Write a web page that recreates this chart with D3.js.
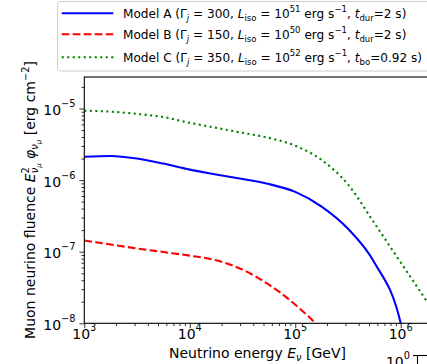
<!DOCTYPE html>
<html><head><meta charset="utf-8">
<script src="https://cdn.jsdelivr.net/npm/d3@7"></script>
<style>
html,body{margin:0;padding:0;background:#fff;}
svg text{font-family:"DejaVu Sans",sans-serif;white-space:pre;}
</style></head>
<body><svg id="c" width="427" height="364"></svg>
<script>
// ---- data ----
const energy = [1e3, 1778, 3162, 5623, 1e4, 17783, 31623, 56234, 1e5, 177828, 316228, 562341, 1e6, 1778279, 1995262];
const modelA = [2.12e-6, 2.17e-6, 2.00e-6, 1.70e-6, 1.40e-6, 1.20e-6, 1.035e-6, 8.81e-7, 6.84e-7, 4.27e-7, 2.09e-7, 7.08e-8, 1.0e-8, 5e-11, null];
const modelB = [1.43e-7, 1.26e-7, 1.11e-7, 9.89e-8, 8.81e-8, 7.59e-8, 5.62e-8, 3.47e-8, 1.82e-8, 8.1e-9, 2.8e-9, null, null, null, null];
const modelC = [9.33e-6, 9.02e-6, 8.41e-6, 7.59e-6, 6.31e-6, 5.37e-6, 4.57e-6, 3.89e-6, 3.02e-6, 1.91e-6, 8.71e-7, 2.51e-7, 7.08e-8, 2.00e-8, 1.55e-8];
const xTickExp = [3, 4, 5, 6];
const yTickExp = [-8, -7, -6, -5];
const seriesNames = ["Model A", "Model B", "Model C"];

const svg = d3.select("#c");
const L = 84.3, R = 431, T = 77, B = 323.3;
const x = d3.scaleLog().domain([1e3, Math.pow(10, 3 + (R - L) / 105.47)]).range([L, R]);
const y = d3.scaleLog().domain([1e-8, Math.pow(10, -8 + (B - T) / 71.6)]).range([B, T]);

function rich(sel, segs, base) {
  let cur = 0;
  segs.forEach(([t, o]) => {
    o = o || {};
    const off = o.off || 0;
    const ts = sel.append("tspan").text(t).attr("font-size", o.size || base).attr("dy", off - cur);
    if (o.it) ts.attr("font-style", "italic");
    if (o.dx) ts.attr("dx", o.dx);
    cur = off;
  });
}
const LF = 12.1;
const SUP = {size: 8.5, off: -5.5};
const SUB = {size: 8.5, off: 2.7};

// clip
svg.append("defs").append("clipPath").attr("id", "clip")
  .append("rect").attr("x", L).attr("y", T).attr("width", R - L).attr("height", B - T);

// lines
const line = d3.line().defined(d => d[1] != null).x(d => x(d[0])).y(d => y(d[1])).curve(d3.curveMonotoneX);
const styles = [
  {data: modelA, color: "#0000ff", dash: null},
  {data: modelB, color: "#ff0000", dash: "7.7,3.3"},
  {data: modelC, color: "#008000", dash: "2.1,3.4"}
];
const g = svg.append("g").attr("clip-path", "url(#clip)");
styles.forEach(s => {
  g.append("path").attr("d", line(energy.map((e, i) => [e, s.data[i]])))
    .attr("fill", "none").attr("stroke", s.color).attr("stroke-width", 2.08)
    .attr("stroke-dasharray", s.dash);
});

// axes
const xAxis = d3.axisBottom(x).tickValues(xTickExp.map(e => Math.pow(10, e))).tickSize(4.9).tickFormat("");
const xMinor = [];
for (let k = 3; k <= 6; k++) for (let m = 2; m <= 9; m++) { const v = m * Math.pow(10, k); if (v <= x.domain()[1]) xMinor.push(v); }
const yMinor = [];
for (let k = -8; k <= -5; k++) for (let m = 2; m <= 9; m++) { const v = m * Math.pow(10, k); if (v <= y.domain()[1]) yMinor.push(v); }
svg.append("g").attr("transform", `translate(0,${B})`).call(xAxis);
svg.append("g").attr("transform", `translate(0,${B})`).call(d3.axisBottom(x).tickValues(xMinor).tickSize(2.8).tickFormat(""));
svg.append("g").attr("transform", `translate(${L},0)`).call(d3.axisLeft(y).tickValues(yTickExp.map(e => Math.pow(10, e))).tickSize(4.9).tickFormat(""));
svg.append("g").attr("transform", `translate(${L},0)`).call(d3.axisLeft(y).tickValues(yMinor).tickSize(2.8).tickFormat(""));
svg.selectAll(".domain").remove();
svg.selectAll(".tick line").attr("stroke", "#000").attr("stroke-width", 0.8);

// spines
svg.append("rect").attr("x", L).attr("y", T).attr("width", R - L).attr("height", B - T)
  .attr("fill", "none").attr("stroke", "#000").attr("stroke-width", 1.1);

// tick labels
xTickExp.forEach(e => {
  const t = svg.append("text").attr("x", x(Math.pow(10, e))).attr("y", 339).attr("text-anchor", "middle");
  rich(t, [["10"], [String(e), {size: 9.8, off: -8}]], 14);
});
yTickExp.forEach(e => {
  const t = svg.append("text").attr("x", 75.5).attr("y", y(Math.pow(10, e)) + 6.5).attr("text-anchor", "end");
  rich(t, [["10"], ["\u2212" + Math.abs(e), {size: 9.8, off: -8}]], 14);
});

// axis labels
const xl = svg.append("text").attr("x", 257.5).attr("y", 358).attr("text-anchor", "middle");
rich(xl, [["Neutrino energy "], ["E", {it: true}], ["\u03BD", {it: true, size: 9.8, off: 3}], [" [GeV]"]], 14);

const yl = svg.append("text").attr("transform", "translate(35,200) rotate(-90)").attr("text-anchor", "middle");
rich(yl, [["Muon neurino fluence "], ["E", {it: true}], ["2", {size: 9.8, off: -6}],
  ["\u03BD", {it: true, size: 9.8, off: 3, dx: -6.2}], ["\u03BC", {it: true, size: 7, off: 5.5}],
  [" "], ["\u03C6", {it: true}], ["\u03BD", {it: true, size: 9.8, off: 3}], ["\u03BC", {it: true, size: 7, off: 5.5}],
  [" [erg cm"], ["\u22122", {size: 9.8, off: -6}], ["]"]], 14);

// legend
svg.append("rect").attr("x", 57.5).attr("y", 1.5).attr("width", 400).attr("height", 69.5).attr("rx", 3)
  .attr("fill", "#fff").attr("fill-opacity", 0.8).attr("stroke", "#cccccc").attr("stroke-width", 1);
const legendRows = [
  [[seriesNames[0] + " ("], ["\u0393"], ["j", {it: true, ...SUB}], [" = 300, "], ["L", {it: true}], ["iso", SUB], [" = 10"], ["51", SUP], [" erg s"], ["\u22121", SUP], [", "], ["t", {it: true}], ["dur", SUB], ["=2 s)"]],
  [[seriesNames[1] + " ("], ["\u0393"], ["j", {it: true, ...SUB}], [" = 150, "], ["L", {it: true}], ["iso", SUB], [" = 10"], ["50", SUP], [" erg s"], ["\u22121", SUP], [", "], ["t", {it: true}], ["dur", SUB], ["=2 s)"]],
  [[seriesNames[2] + " ("], ["\u0393"], ["j", {it: true, ...SUB}], [" = 350, "], ["L", {it: true}], ["iso", SUB], [" = 10"], ["52", SUP], [" erg s"], ["\u22121", SUP], [", "], ["t", {it: true}], ["bo", SUB], ["=0.92 s)"]]
];
const rowY = [13.3, 34.3, 57.3];
styles.forEach((s, i) => {
  svg.append("line").attr("x1", 61.7).attr("x2", 113.3).attr("y1", rowY[i]).attr("y2", rowY[i])
    .attr("stroke", s.color).attr("stroke-width", 2.08).attr("stroke-dasharray", s.dash);
  const t = svg.append("text").attr("x", 123).attr("y", rowY[i] + 4.5);
  rich(t, legendRows[i], LF);
});

// fragment of neighbouring axes at bottom right
const t0 = svg.append("text").attr("x", 410).attr("y", 367).attr("text-anchor", "end");
rich(t0, [["10"], ["0", {size: 9.8, off: -8}]], 14);
svg.append("line").attr("x1", 413).attr("x2", 427).attr("y1", 355.5).attr("y2", 355.5).attr("stroke", "#000").attr("stroke-width", 1.1);
svg.append("line").attr("x1", 417.5).attr("x2", 417.5).attr("y1", 355).attr("y2", 364).attr("stroke", "#000").attr("stroke-width", 1.1);
</script></body></html>
